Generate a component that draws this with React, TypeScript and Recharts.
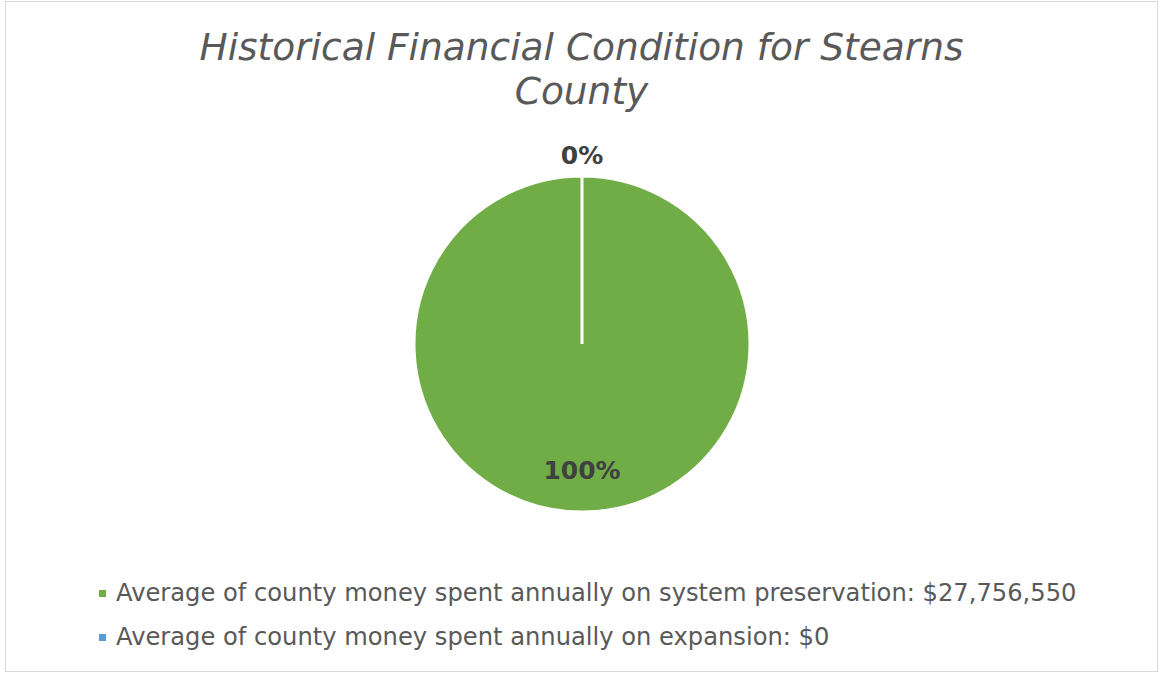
import { PieChart, Pie, Cell } from 'recharts';

const categories = [
  'Average of county money spent annually on system preservation: $27,756,550',
  'Average of county money spent annually on expansion: $0',
];
const values = [27756550, 0];
const colors = ['#70AD47', '#5B9BD5'];

const titleLines = ['Historical Financial Condition for Stearns', 'County'];

const FONT = '"DejaVu Sans", Verdana, sans-serif';

const data = categories.map((name, i) => ({ name, value: values[i] }));

const RADIAN = Math.PI / 180;

function renderLabel(props: any) {
  const { cx, cy, midAngle, outerRadius, percent } = props;
  const pct = Math.round((percent || 0) * 100);
  // tiny slices go outside, big ones sit inside
  const r = pct < 5 ? outerRadius + 21 : outerRadius * 0.75;
  const x = cx + r * Math.cos(-midAngle * RADIAN);
  const y = cy + r * Math.sin(-midAngle * RADIAN);
  return (
    <text x={x} y={y} textAnchor="middle" dominantBaseline="central"
      fill="#404040" fontSize={25} fontWeight="bold" fontFamily={FONT}>
      {`${pct}%`}
    </text>
  );
}

export default function App() {
  return (
    <div style={{ position: 'absolute', left: 0, top: 0, width: 1163, height: 673, background: '#fff' }}>
      <div style={{
        position: 'absolute', left: 5, top: 1, width: 1151, height: 669,
        border: '1px solid #D9D9D9',
      }} />
      <div style={{
        position: 'absolute', left: 0, top: 25, width: 1163, textAlign: 'center',
        fontFamily: FONT, fontStyle: 'italic', fontSize: 37.5, lineHeight: '44px', color: '#595959',
      }}>
        {titleLines.map(l => <div key={l}>{l}</div>)}
      </div>
      <div style={{ position: 'absolute', left: 0, top: 0 }}>
        <PieChart width={1163} height={673} margin={{ top: 0, right: 0, bottom: 0, left: 0 }}>
          <Pie data={data} dataKey="value" nameKey="name" cx={582} cy={344}
            outerRadius={168} startAngle={90} endAngle={-270}
            stroke="#fff" strokeWidth={3} label={renderLabel} labelLine={false}
            isAnimationActive={false}>
            {data.map((d, i) => <Cell key={d.name} fill={colors[i]} />)}
          </Pie>
        </PieChart>
      </div>
      <div style={{
        position: 'absolute', left: 99, top: 571, fontFamily: FONT, fontSize: 24.2, color: '#595959',
      }}>
        {data.map((d, i) => (
          <div key={d.name} style={{ display: 'flex', alignItems: 'center', height: 44, whiteSpace: 'nowrap' }}>
            <span style={{ display: 'inline-block', width: 7, height: 7, background: colors[i], marginRight: 10 }} />
            <span>{d.name}</span>
          </div>
        ))}
      </div>
    </div>
  );
}
